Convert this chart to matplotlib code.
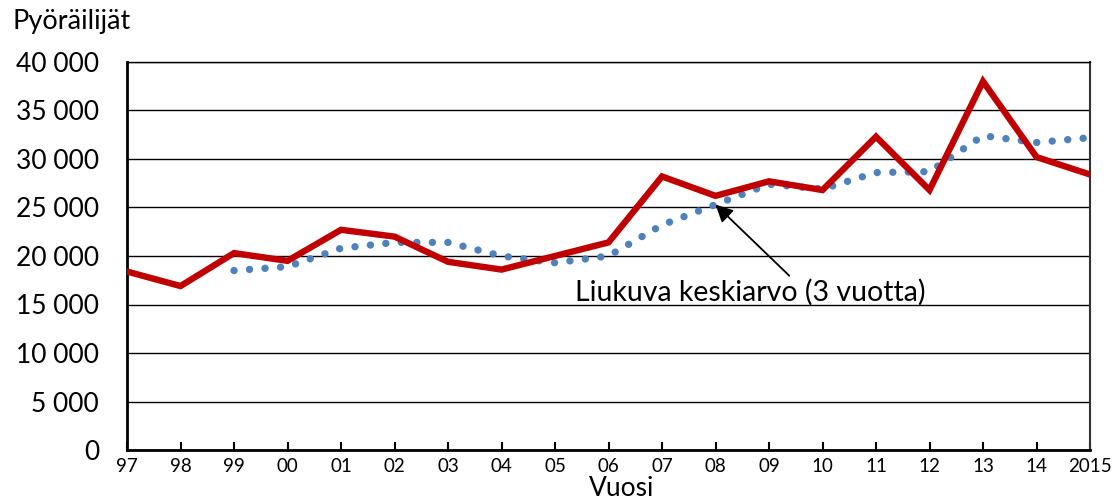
import matplotlib
matplotlib.use('Agg')
import matplotlib.pyplot as plt
from matplotlib.ticker import FuncFormatter

plt.rcParams['font.family'] = ['Lato', 'DejaVu Sans']

years = list(range(1997, 2016))
year_labels = ['97', '98', '99', '00', '01', '02', '03', '04', '05', '06',
               '07', '08', '09', '10', '11', '12', '13', '14', '2015']
cyclists = [18400, 16900, 20300, 19500, 22700, 22000, 19400, 18600, 20000, 21400,
            28200, 26200, 27700, 26800, 32300, 26800, 38000, 30200, 28400]
ma_years = list(range(1999, 2016))
moving_avg = [18500, 18900, 20800, 21400, 21400, 20000, 19300, 20000, 23200,
              25300, 27400, 26900, 28600, 28700, 32400, 31700, 32200]


def fmt(v, pos):
    return '{:,}'.format(int(v)).replace(',', ' ')


fig = plt.figure(figsize=(11.16, 5.01), dpi=100)
ax = fig.add_axes([127/1116, 1-450/501, (1090-127)/1116, (450-62)/501])

ax.plot(ma_years, moving_avg, color='#4F81BD', lw=5.3,
        linestyle=(0, (0.01, 2.1)), dash_capstyle='round', zorder=3)
ax.plot(years, cyclists, color='#C00000', lw=4.6, zorder=4,
        solid_joinstyle='miter')

ax.set_xlim(1997, 2015)
ax.set_ylim(0, 40000)
ax.set_yticks(range(0, 40001, 5000))
ax.yaxis.set_major_formatter(FuncFormatter(fmt))
ax.set_xticks(years)
ax.set_xticklabels(year_labels)
ax.yaxis.grid(True, color='black', lw=1.0)
ax.set_axisbelow(True)

ax.tick_params(axis='y', length=0, pad=20, labelsize=19)
ax.tick_params(axis='x', direction='in', length=6, width=1.5, pad=6, labelsize=13.5)
ax.spines['left'].set_linewidth(2)
ax.spines['bottom'].set_linewidth(2)
ax.spines['right'].set_linewidth(1.5)
ax.spines['right'].set_color('#333333')
ax.spines['top'].set_linewidth(1.0)

ax.annotate('Liukuva keskiarvo (3 vuotta)', xy=(2008, 25300),
            xytext=(2005.37, 16300), fontsize=20.5, va='center', ha='left',
            arrowprops=dict(arrowstyle='-|>', color='black', lw=1.3,
                            mutation_scale=26, shrinkA=0, shrinkB=0,
                            relpos=(0.62, 1.0)))

fig.text(12/1116, 1-21/501, 'Pyöräilijät', fontsize=19.5, va='center', ha='left')
fig.text(622/1116, 1-476/501, 'Vuosi', fontsize=19, va='top', ha='center')

fig.savefig('out.png', dpi=100)
